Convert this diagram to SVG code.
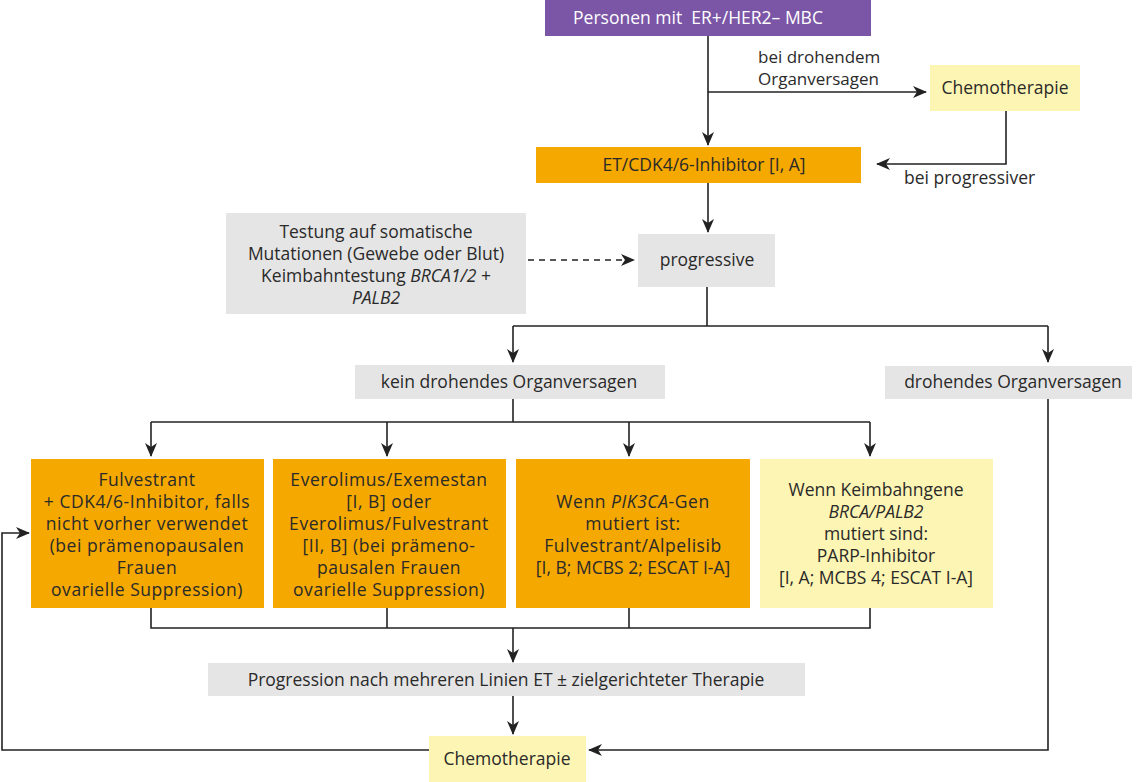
<svg xmlns="http://www.w3.org/2000/svg" width="1140" height="782" viewBox="0 0 1140 782">
<defs>
<style>
text{font-family:"Open Sans","Noto Sans","Liberation Sans",sans-serif;font-size:17.5px;fill:#2a2a2a;text-anchor:middle}
.l{text-anchor:start}
.s{font-size:17px}
.b{letter-spacing:0.55px}
.w{fill:#ffffff}
.i{font-style:italic}
.purple{fill:#7b55a6}
.orange{fill:#f5a800}
.yellow{fill:#fdf5b3}
.gray{fill:#e5e5e5}
.c{fill:none;stroke:#222;stroke-width:1.6}
.d{fill:none;stroke:#222;stroke-width:1.6;stroke-dasharray:6 5}
</style>
<marker id="a" viewBox="0 0 14 12" refX="13" refY="6" markerWidth="14" markerHeight="12" markerUnits="userSpaceOnUse" orient="auto">
<path d="M0,0 L14,6 L0,12 L4,6 Z" fill="#222"/>
</marker>
</defs>
<rect width="1140" height="782" fill="#fff"/>
<g id="connectors">
<path class="c" d="M708,36 V145" marker-end="url(#a)"/>
<path class="c" d="M708,92 H926" marker-end="url(#a)"/>
<path class="c" d="M1006,111 V164 H877" marker-end="url(#a)"/>
<path class="c" d="M708,183 V232" marker-end="url(#a)"/>
<path class="d" d="M528,260 H634" marker-end="url(#a)"/>
<path class="c" d="M707,287 V326"/>
<path class="c" d="M513,326 H1048"/>
<path class="c" d="M513,326 V362" marker-end="url(#a)"/>
<path class="c" d="M1048,326 V362" marker-end="url(#a)"/>
<path class="c" d="M513,399 V422"/>
<path class="c" d="M151,422 H870"/>
<path class="c" d="M151,422 V456" marker-end="url(#a)"/>
<path class="c" d="M387,422 V456" marker-end="url(#a)"/>
<path class="c" d="M629,422 V456" marker-end="url(#a)"/>
<path class="c" d="M870,422 V456" marker-end="url(#a)"/>
<path class="c" d="M151,608 V628 H870 V608"/>
<path class="c" d="M387,608 V628"/>
<path class="c" d="M629,608 V628"/>
<path class="c" d="M513,628 V662" marker-end="url(#a)"/>
<path class="c" d="M513,696 V734" marker-end="url(#a)"/>
<path class="c" d="M1048,399 V750 H589" marker-end="url(#a)"/>
<path class="c" d="M429,750 H2 V533 H29" marker-end="url(#a)"/>
</g>
<g id="start">
<rect class="purple" x="545" y="0" width="326" height="36"/>
<text class="w" x="698" y="24" xml:space="preserve">Personen mit  ER+/HER2– MBC</text>
</g>
<g id="label-drohend">
<text class="l s" x="758" y="63">bei drohendem</text>
<text class="l s" x="758" y="85">Organversagen</text>
</g>
<g id="chemo-top">
<rect class="yellow" x="930" y="65" width="150" height="46"/>
<text x="1005" y="94">Chemotherapie</text>
</g>
<g id="et-cdk">
<rect class="orange" x="536" y="147" width="325" height="36"/>
<text x="704" y="171">ET/CDK4/6-Inhibitor [I, A]</text>
</g>
<g id="label-progressiver">
<text class="l" x="904" y="184">bei progressiver</text>
</g>
<g id="testung">
<rect class="gray" x="226" y="213" width="300" height="101"/>
<text x="376" y="238">Testung auf somatische</text>
<text x="376" y="260">Mutationen (Gewebe oder Blut)</text>
<text x="376" y="282">Keimbahntestung <tspan class="i">BRCA1/2</tspan> +</text>
<text class="i" x="376" y="304">PALB2</text>
</g>
<g id="progressive">
<rect class="gray" x="638" y="234" width="137" height="53"/>
<text x="707" y="266">progressive</text>
</g>
<g id="kein-drohend">
<rect class="gray" x="355" y="365" width="310" height="34"/>
<text x="509" y="388">kein drohendes Organversagen</text>
</g>
<g id="drohend">
<rect class="gray" x="885" y="366" width="247" height="33"/>
<text x="1013" y="388">drohendes Organversagen</text>
</g>
<g id="fulvestrant">
<rect class="orange" x="31" y="459" width="233" height="149"/>
<text class="b" x="147" y="486">Fulvestrant</text>
<text class="b" x="147" y="508">+ CDK4/6-Inhibitor, falls</text>
<text class="b" x="147" y="530">nicht vorher verwendet</text>
<text class="b" x="147" y="552">(bei prämenopausalen</text>
<text class="b" x="147" y="574">Frauen</text>
<text class="b" x="147" y="596">ovarielle Suppression)</text>
</g>
<g id="everolimus">
<rect class="orange" x="273" y="459" width="233" height="149"/>
<text class="b" x="389" y="486">Everolimus/Exemestan</text>
<text class="b" x="389" y="508">[I, B] oder</text>
<text class="b" x="389" y="530">Everolimus/Fulvestrant</text>
<text class="b" x="389" y="552">[II, B] (bei prämeno-</text>
<text class="b" x="389" y="574">pausalen Frauen</text>
<text class="b" x="389" y="596">ovarielle Suppression)</text>
</g>
<g id="pik3ca">
<rect class="orange" x="516" y="459" width="234" height="149"/>
<text class="b" x="633" y="508">Wenn <tspan class="i">PIK3CA</tspan>-Gen</text>
<text class="b" x="633" y="530">mutiert ist:</text>
<text class="b" x="633" y="552">Fulvestrant/Alpelisib</text>
<text x="633" y="574">[I, B; MCBS 2; ESCAT I-A]</text>
</g>
<g id="parp">
<rect class="yellow" x="760" y="459" width="233" height="149"/>
<text x="876" y="496">Wenn Keimbahngene</text>
<text class="i" x="876" y="518">BRCA/PALB2</text>
<text x="876" y="540">mutiert sind:</text>
<text x="876" y="562">PARP-Inhibitor</text>
<text x="876" y="584">[I, A; MCBS 4; ESCAT I-A]</text>
</g>
<g id="progression">
<rect class="gray" x="208" y="663" width="597" height="33"/>
<text x="506" y="686">Progression nach mehreren Linien ET ± zielgerichteter Therapie</text>
</g>
<g id="chemo-bottom">
<rect class="yellow" x="429" y="736" width="157" height="46"/>
<text x="507" y="765">Chemotherapie</text>
</g>
</svg>
